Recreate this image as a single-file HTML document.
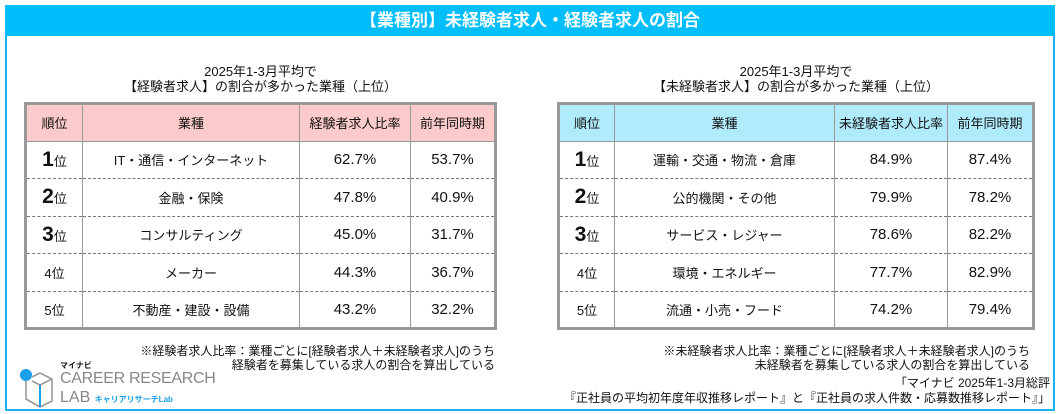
<!DOCTYPE html>
<html><head><meta charset="utf-8"><style>
*{margin:0;padding:0;box-sizing:border-box}
body{width:1060px;height:414px;background:#fff;font-family:"Liberation Sans","Noto Sans CJK JP",sans-serif;color:#111;position:relative;overflow:hidden}
.frame{position:absolute;left:5px;top:5px;width:1050px;height:406px;border:2px solid #19b4f0}
.bar{position:absolute;left:5px;top:5px;width:1050px;height:31px;background:#00bdfc;color:#fff;font-size:17px;font-weight:bold;text-align:center;line-height:31px}
.cap{position:absolute;text-align:center;font-size:13px;line-height:15px}
table{position:absolute;border-collapse:collapse;border:3px solid #999;font-size:13px}
td,th{border-left:1px solid #999;border-right:1px solid #999;text-align:center;font-weight:normal;height:37.5px}
tr+tr td{border-top:1px dashed #777}
th{border-bottom:1px solid #999}
.rk{font-size:21px;font-weight:bold}.rk small{font-size:13px;font-weight:normal}
.big{font-size:15px}
.note{position:absolute;font-size:12px;text-align:right;line-height:14px;white-space:nowrap}
.logo div{white-space:nowrap}
</style></head><body>
<div class="frame"></div>
<div class="bar">【業種別】未経験者求人・経験者求人の割合</div>
<div class="cap" style="left:24px;width:473px;top:64px">2025年1-3月平均で<br>【経験者求人】の割合が多かった業種（上位）</div>
<div class="cap" style="left:557px;width:478px;top:64px">2025年1-3月平均で<br>【未経験者求人】の割合が多かった業種（上位）</div>
<table style="left:24px;top:102px;width:473px">
<tr style="background:#fbcaca"><th style="width:57px">順位</th><th style="width:217px">業種</th><th style="width:111px">経験者求人比率</th><th>前年同時期</th></tr>
<tr><td class="rk">1<small>位</small></td><td>IT・通信・インターネット</td><td class="big">62.7%</td><td class="big">53.7%</td></tr>
<tr><td class="rk">2<small>位</small></td><td>金融・保険</td><td class="big">47.8%</td><td class="big">40.9%</td></tr>
<tr><td class="rk">3<small>位</small></td><td>コンサルティング</td><td class="big">45.0%</td><td class="big">31.7%</td></tr>
<tr><td>4位</td><td>メーカー</td><td class="big">44.3%</td><td class="big">36.7%</td></tr>
<tr><td>5位</td><td>不動産・建設・設備</td><td class="big">43.2%</td><td class="big">32.2%</td></tr>
</table>
<table style="left:557px;top:102px;width:478px">
<tr style="background:#b0ebfb"><th style="width:56px">順位</th><th style="width:220px">業種</th><th style="width:113px">未経験者求人比率</th><th>前年同時期</th></tr>
<tr><td class="rk">1<small>位</small></td><td>運輸・交通・物流・倉庫</td><td class="big">84.9%</td><td class="big">87.4%</td></tr>
<tr><td class="rk">2<small>位</small></td><td>公的機関・その他</td><td class="big">79.9%</td><td class="big">78.2%</td></tr>
<tr><td class="rk">3<small>位</small></td><td>サービス・レジャー</td><td class="big">78.6%</td><td class="big">82.2%</td></tr>
<tr><td>4位</td><td>環境・エネルギー</td><td class="big">77.7%</td><td class="big">82.9%</td></tr>
<tr><td>5位</td><td>流通・小売・フード</td><td class="big">74.2%</td><td class="big">79.4%</td></tr>
</table>
<div class="note" style="right:565px;top:344px">※経験者求人比率：業種ごとに[経験者求人＋未経験者求人]のうち<br>経験者を募集している求人の割合を算出している</div>
<div class="note" style="right:30px;top:344px">※未経験者求人比率：業種ごとに[経験者求人＋未経験者求人]のうち<br>未経験者を募集している求人の割合を算出している</div>
<div class="note" style="right:10px;top:376px;line-height:15px">「マイナビ 2025年1-3月総評<br>『正社員の平均初年度年収推移レポート』と『正社員の求人件数・応募数推移レポート』」</div>
<div class="logo" style="position:absolute;left:18px;top:365px">
<svg width="40" height="44" style="position:absolute;left:0;top:0"><circle cx="8" cy="10" r="6" fill="#1aa0e8"/><path d="M8 16V34L22 42M14 12L22 8L34 14V36L22 42M22 20L34 14M22 20L14 16" stroke="#999" stroke-width="1.6" fill="none"/><path d="M22 20V42" stroke="#1aa0e8" stroke-width="2"/></svg>
<div style="position:absolute;left:42px;top:-5px;font-size:8px;font-weight:bold">マイナビ</div>
<div style="position:absolute;left:42px;top:5px;font-size:16px;color:#888;letter-spacing:-0.3px">CAREER RESEARCH</div>
<div style="position:absolute;left:42px;top:24px;font-size:16px;color:#888">LAB <span style="font-size:8px;color:#1aa0e8;font-weight:bold">キャリアリサーチLab</span></div>
</div>
</body></html>
